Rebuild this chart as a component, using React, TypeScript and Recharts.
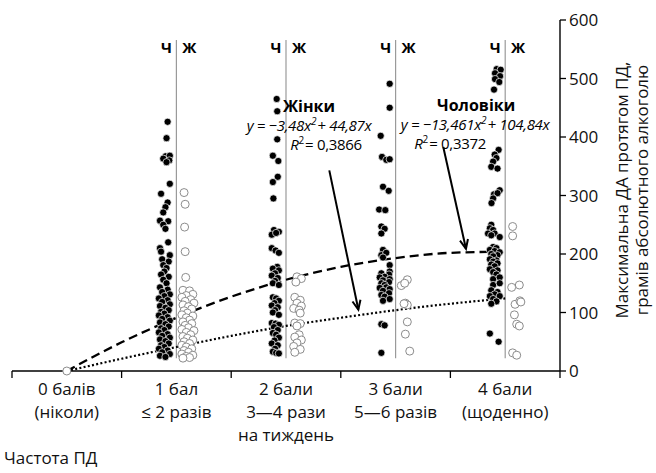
import React from 'react';
import { ComposedChart, Scatter, Line, XAxis, YAxis, ReferenceLine, ReferenceDot } from 'recharts';

const FONT = '"Open Sans", "Noto Sans", sans-serif';

const categories = [0, 1, 2, 3, 4];
const categoryLabels = [
  ['0 балів', '(ніколи)'],
  ['1 бал', '≤ 2 разів'],
  ['2 бали', '3—4 рази', 'на тиждень'],
  ['3 бали', '5—6 разів'],
  ['4 бали', '(щоденно)'],
];
const xTicks = [-0.5, 0, 0.5, 1, 1.5, 2, 2.5, 3, 3.5, 4, 4.5];
const yTicks = [0, 100, 200, 300, 400, 500, 600];

// fitted curves
const curveX = [0, 0.5, 1, 1.5, 2, 2.5, 3, 3.5, 4];
const menCurve = [0, 49, 91, 127, 156, 178, 193, 202, 204];
const womenCurve = [0, 21, 41, 60, 77, 91, 104, 115, 124];

// individual respondents: [position on x, grams]
const women0 = [[0, 0]];

const men1 = [
  [0.92, 426], [0.91, 398], [0.9, 367], [0.94, 368], [0.88, 363], [0.935, 360], [0.91, 357],
  [0.94, 320], [0.86, 303], [0.92, 288], [0.9, 280], [0.88, 271], [0.85, 257], [0.925, 256],
  [0.88, 250], [0.9, 243], [0.925, 220], [0.85, 210], [0.86, 204], [0.94, 198], [0.87, 191],
  [0.93, 187], [0.88, 181], [0.91, 176], [0.89, 170], [0.86, 165], [0.93, 161], [0.88, 156],
  [0.91, 150], [0.85, 143], [0.92, 139], [0.87, 135], [0.94, 131], [0.89, 128], [0.84, 124],
  [0.92, 121], [0.87, 118], [0.94, 114], [0.85, 111], [0.9, 108], [0.93, 104], [0.86, 101],
  [0.89, 98], [0.84, 95], [0.92, 92], [0.87, 89], [0.94, 86], [0.85, 83], [0.9, 80],
  [0.93, 76], [0.86, 73], [0.89, 70], [0.84, 66], [0.92, 63], [0.87, 60], [0.94, 57],
  [0.85, 54], [0.9, 51], [0.93, 47], [0.86, 44], [0.89, 41], [0.84, 38], [0.92, 35],
  [0.87, 32], [0.94, 29], [0.85, 26], [0.9, 24],
];
const women1 = [
  [1.07, 305], [1.08, 285], [1.075, 246], [1.08, 204], [1.085, 160], [1.06, 138], [1.12, 137],
  [1.15, 131], [1.09, 129], [1.05, 126], [1.13, 122], [1.08, 119], [1.16, 116], [1.06, 113],
  [1.11, 110], [1.14, 106], [1.07, 103], [1.1, 99], [1.05, 96], [1.15, 94], [1.09, 91],
  [1.12, 87], [1.06, 84], [1.14, 81], [1.08, 78], [1.11, 74], [1.05, 71], [1.16, 69],
  [1.09, 66], [1.13, 62], [1.06, 59], [1.1, 56], [1.15, 53], [1.07, 50], [1.12, 47],
  [1.05, 44], [1.09, 41], [1.14, 38], [1.07, 35], [1.11, 32], [1.05, 29], [1.15, 27],
  [1.09, 25], [1.12, 23], [1.06, 22],
];

const men2 = [
  [1.915, 465], [1.92, 444], [1.92, 396], [1.88, 368], [1.93, 359], [1.925, 332], [1.88, 323],
  [1.885, 295], [1.89, 241], [1.935, 238], [1.87, 233], [1.91, 236], [1.87, 210], [1.905, 206],
  [1.935, 202], [1.92, 178], [1.88, 175], [1.935, 172], [1.9, 167], [1.87, 163], [1.925, 159],
  [1.9, 154], [1.88, 150], [1.935, 147], [1.88, 126], [1.91, 124], [1.935, 120], [1.895, 116],
  [1.87, 112], [1.925, 109], [1.9, 104], [1.88, 100], [1.935, 96], [1.87, 82], [1.905, 81],
  [1.935, 79], [1.89, 75], [1.925, 70], [1.88, 65], [1.91, 62], [1.935, 57], [1.895, 52],
  [1.87, 47], [1.925, 44], [1.9, 38], [1.88, 33], [1.91, 31], [1.935, 30],
];
const women2 = [
  [2.1, 161], [2.14, 158], [2.09, 152], [2.08, 126], [2.13, 121], [2.1, 116], [2.14, 111],
  [2.07, 107], [2.12, 104], [2.13, 99], [2.08, 82], [2.13, 81], [2.1, 77], [2.12, 62],
  [2.08, 58], [2.14, 53], [2.1, 48], [2.07, 42], [2.13, 37], [2.08, 32],
];

const men3 = [
  [2.946, 491], [2.946, 450], [2.864, 402], [2.876, 366], [2.915, 361], [2.946, 362], [2.885, 315],
  [2.937, 308], [2.85, 276], [2.906, 275], [2.87, 247], [2.9, 243], [2.87, 235], [2.885, 207],
  [2.87, 198], [2.915, 202], [2.885, 194], [2.946, 181], [2.946, 170], [2.87, 167], [2.94, 165],
  [2.9, 161], [2.855, 160], [2.946, 157], [2.885, 155], [2.94, 152], [2.87, 150], [2.9, 147],
  [2.915, 143], [2.855, 142], [2.946, 140], [2.885, 137], [2.94, 133], [2.87, 130], [2.9, 127],
  [2.946, 123], [2.885, 120], [2.87, 80], [2.9, 78], [2.87, 31],
];
const women3 = [
  [3.107, 156], [3.052, 146], [3.083, 150], [3.089, 116], [3.107, 113], [3.077, 115],
  [3.107, 84], [3.089, 63], [3.129, 34],
];

const men4 = [
  [3.922, 516], [3.959, 515], [3.907, 509], [3.953, 504], [3.907, 499], [3.946, 494], [3.898, 481],
  [3.94, 378], [3.904, 370], [3.92, 364], [3.89, 358], [3.873, 349], [3.93, 346],
  [3.95, 309], [3.898, 302], [3.93, 304], [3.89, 295], [3.875, 287],
  [3.873, 250], [3.86, 244], [3.89, 241], [3.843, 235], [3.904, 235], [3.873, 232], [3.95, 229],
  [3.89, 212], [3.92, 210], [3.86, 207], [3.904, 205], [3.95, 203], [3.873, 200], [3.93, 198],
  [3.89, 196], [3.86, 191], [3.92, 189], [3.89, 187], [3.93, 184], [3.873, 182], [3.904, 179],
  [3.86, 174], [3.93, 172], [3.89, 169], [3.92, 165], [3.89, 157], [3.95, 160],
  [3.89, 147], [3.95, 150], [3.873, 138], [3.93, 135], [3.904, 131], [3.86, 128], [3.95, 128],
  [3.89, 123], [3.92, 119], [3.873, 115], [3.86, 64], [3.94, 50],
];
const women4 = [
  [4.068, 247], [4.068, 231], [4.059, 143], [4.129, 147], [4.09, 114], [4.134, 120], [4.143, 118],
  [4.084, 96], [4.105, 80], [4.129, 77], [4.068, 31], [4.105, 27],
];

const toPoints = (arr: number[][]) => arr.map(([x, y]) => ({ x, y }));
const menData = toPoints([...men1, ...men2, ...men3, ...men4]);
const womenData = toPoints([...women0, ...women1, ...women2, ...women3, ...women4]);
const menCurveData = curveX.map((x, i) => ({ x, y: menCurve[i] }));
const womenCurveData = curveX.map((x, i) => ({ x, y: womenCurve[i] }));

const MenDot = (p: any) => <circle cx={p.cx} cy={p.cy} r={3.6} fill="#000" stroke="#fff" strokeWidth={0.7} />;
const WomenDot = (p: any) => <circle cx={p.cx} cy={p.cy} r={4} fill="#fff" stroke="#8c8c8c" strokeWidth={1} />;

const XTick = (p: any) => {
  const v = p.payload.value;
  if (!Number.isInteger(v)) {
    return <line x1={p.x} y1={p.y} x2={p.x} y2={p.y + 7} stroke="#000" strokeWidth={1.3} />;
  }
  const lines = categoryLabels[v];
  return (
    <text x={p.x} y={p.y} textAnchor="middle" fontFamily={FONT} fontSize={17} fill="#111">
      {lines.map((l, i) => (
        <tspan key={i} x={p.x} y={p.y + 24 + i * 23}>{l}</tspan>
      ))}
    </text>
  );
};

const Divider = (p: any) => (
  <g>
    <line x1={p.x1} y1={p.y1} x2={p.x2} y2={p.y2} stroke="#9a9a9a" strokeWidth={1.2} />
    <text x={Math.min(p.x1, p.x2) - 10} y={Math.min(p.y1, p.y2) + 13} textAnchor="middle" fontFamily={FONT} fontWeight={700} fontSize={15} fill="#000">Ч</text>
    <text x={Math.min(p.x1, p.x2) + 13} y={Math.min(p.y1, p.y2) + 13} textAnchor="middle" fontFamily={FONT} fontWeight={700} fontSize={15} fill="#000">Ж</text>
  </g>
);

const Arrow = (p: any) => {
  const { x1, y1, x2, y2 } = p;
  const ang = Math.atan2(y2 - y1, x2 - x1);
  const len = 10;
  const s = 0.42;
  const pts = [
    [x2 - len * Math.cos(ang - s), y2 - len * Math.sin(ang - s)],
    [x2, y2],
    [x2 - len * Math.cos(ang + s), y2 - len * Math.sin(ang + s)],
  ];
  return (
    <g>
      <line x1={x1} y1={y1} x2={x2} y2={y2} stroke="#000" strokeWidth={2} />
      <polyline points={pts.map((q) => q.join(',')).join(' ')} fill="none" stroke="#000" strokeWidth={2} />
    </g>
  );
};

const Sup = ({ children }: any) => (
  <>
    <tspan dy={-6} fontSize={10}>{children}</tspan>
    <tspan dy={6}>{'\u200a'}</tspan>
  </>
);

const fitLabel = (title: string, a: string, b: string, r2: string, fdx: number, rdx: number) => (p: any) => (
  <g fontFamily={FONT} fill="#000">
    <text x={p.cx} y={p.cy} textAnchor="middle" fontWeight={700} fontSize={16}>{title}</text>
    <text x={p.cx + fdx} y={p.cy + 19} textAnchor="middle" fontStyle="italic" fontSize={15} letterSpacing={-0.3}>
      y = −{a}x<Sup>2</Sup>+ {b}x
    </text>
    <text x={p.cx + rdx} y={p.cy + 38} textAnchor="middle" fontSize={15} letterSpacing={-0.3}>
      <tspan fontStyle="italic">R</tspan><Sup>2</Sup>= {r2}
    </text>
  </g>
);

const YLabel = () => (
  <g fontFamily={FONT} fontSize={17} fill="#111">
    <text x={621} y={190} transform="rotate(-90 621 190)" textAnchor="middle" dominantBaseline="central">Максимальна ДА протягом ПД,</text>
    <text x={641} y={190} transform="rotate(-90 641 190)" textAnchor="middle" dominantBaseline="central">грамів абсолютного алкоголю</text>
  </g>
);

const XLabel = () => (
  <text x={4} y={464} fontFamily={FONT} fontSize={17} fill="#111">Частота ПД</text>
);

export default function App() {
  return (
    <div style={{ position: 'absolute', left: 0, top: 0, width: 656, height: 473, background: '#fff' }}>
      <ComposedChart width={656} height={473} margin={{ top: 20, right: 36, bottom: 12, left: 12 }}>
        <XAxis
          dataKey="x"
          type="number"
          domain={[-0.5, 4.5]}
          ticks={xTicks}
          interval={0}
          tickSize={0}
          tickMargin={0}
          tickLine={false}
          tick={<XTick />}
          height={90}
          axisLine={{ stroke: '#000', strokeWidth: 1.4 }}
          allowDataOverflow
          label={{ content: () => <XLabel /> }}
        />
        <YAxis
          yAxisId={0}
          orientation="right"
          type="number"
          domain={[0, 600]}
          ticks={yTicks}
          width={60}
          tickSize={6}
          tickMargin={3}
          tickLine={{ stroke: '#000', strokeWidth: 1.3 }}
          axisLine={{ stroke: '#000', strokeWidth: 1.4 }}
          tick={{ fill: '#111', fontSize: 17, fontFamily: FONT, textAnchor: 'start' }}
          label={{ content: () => <YLabel /> }}
        />
        {categories.slice(1).map((c) => (
          <ReferenceLine key={c} segment={[{ x: c, y: 22 }, { x: c, y: 566 }]} shape={<Divider />} />
        ))}
        <Scatter data={womenData} dataKey="y" shape={<WomenDot />} isAnimationActive={false} />
        <Scatter data={menData} dataKey="y" shape={<MenDot />} isAnimationActive={false} />
        <Line data={menCurveData} dataKey="y" type="monotone" stroke="#000" strokeWidth={2.3} strokeDasharray="9 5" dot={false} activeDot={false} isAnimationActive={false} />
        <Line data={womenCurveData} dataKey="y" type="monotone" stroke="#000" strokeWidth={2.2} strokeDasharray="2 2.3" dot={false} activeDot={false} isAnimationActive={false} />
        <ReferenceLine segment={[{ x: 2.395, y: 343 }, { x: 2.66, y: 105 }]} shape={<Arrow />} />
        <ReferenceLine segment={[{ x: 3.435, y: 383 }, { x: 3.642, y: 209 }]} shape={<Arrow />} />
        <ReferenceDot x={2.21} y={443} r={0} shape={fitLabel('Жінки', '3,48', '44,87', '0,3866', 0, 17)} />
        <ReferenceDot x={3.735} y={445} r={0} shape={fitLabel('Чоловіки', '13,461', '104,84', '0,3372', -1, -26)} />
      </ComposedChart>
    </div>
  );
}
